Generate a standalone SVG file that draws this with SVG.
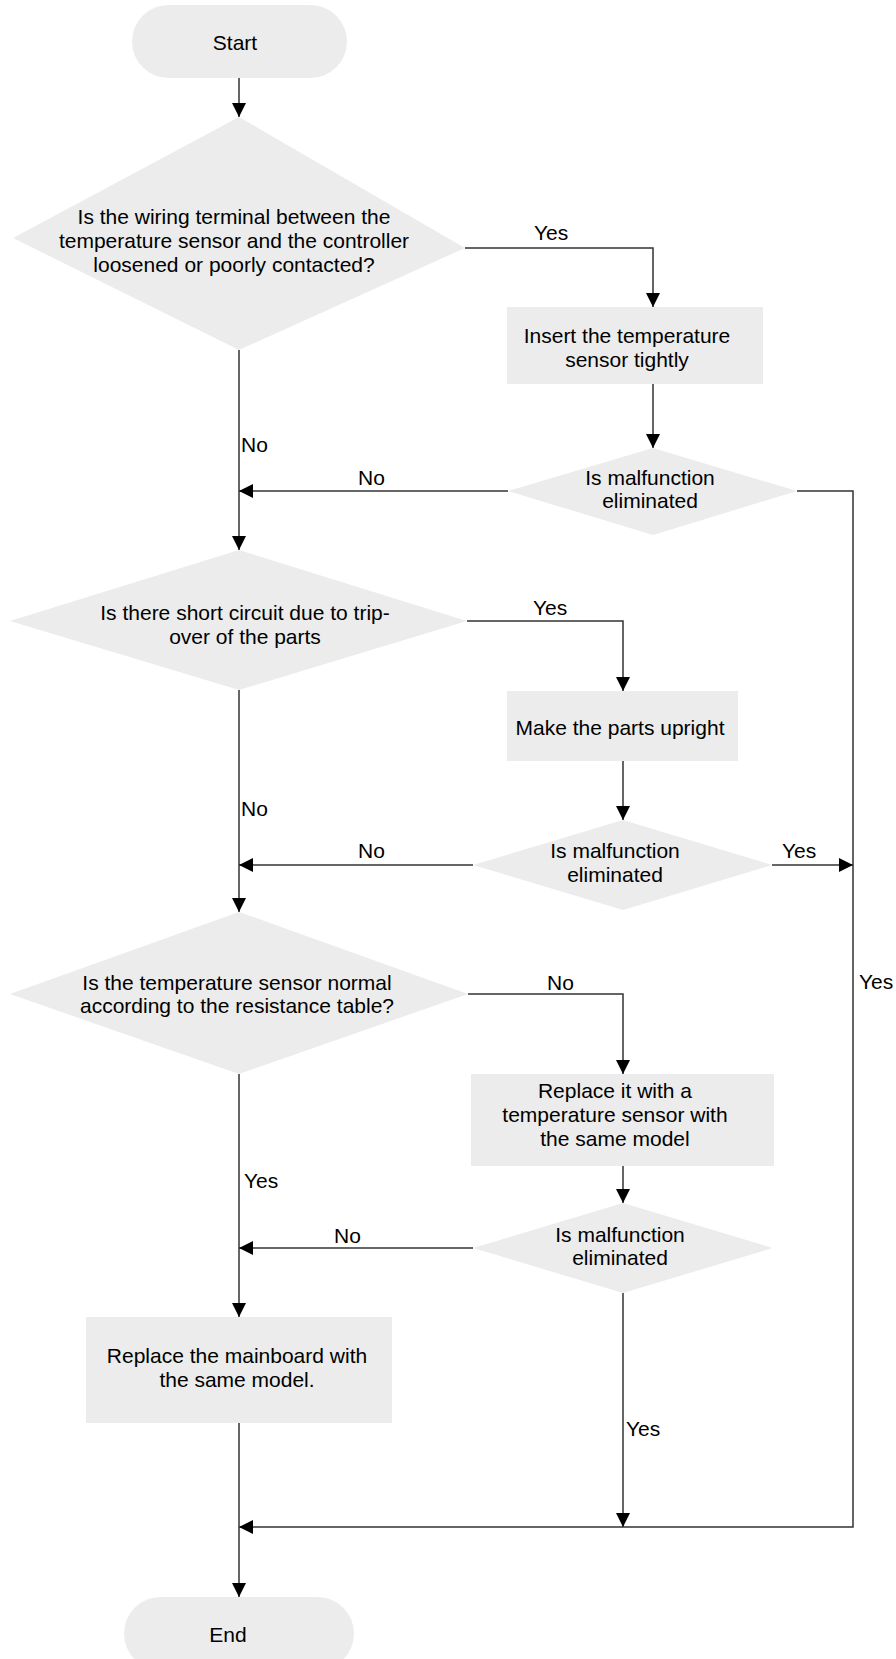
<svg xmlns="http://www.w3.org/2000/svg" width="896" height="1659" viewBox="0 0 896 1659">
<style>
.n{fill:#ebeceb;stroke:none}
.t{font-family:"Liberation Sans",Arial,sans-serif;font-size:21px;fill:#000;text-anchor:middle}
.l{font-family:"Liberation Sans",Arial,sans-serif;font-size:21px;fill:#000}
.c{fill:none;stroke:#333;stroke-width:1.5}
</style>
<defs>
<marker id="ah" markerUnits="userSpaceOnUse" markerWidth="14" markerHeight="14" refX="14" refY="7" orient="auto"><path d="M0,0 L14,7 L0,14 z" fill="#000"/></marker>
</defs>
<rect width="896" height="1659" fill="#fff"/>
<g id="connectors">
<path class="c" d="M239,78 V117" marker-end="url(#ah)"/>
<path class="c" d="M465,248 H653 V307" marker-end="url(#ah)"/>
<path class="c" d="M239,350 V550" marker-end="url(#ah)"/>
<path class="c" d="M653,384 V448" marker-end="url(#ah)"/>
<path class="c" d="M508,491 H239" marker-end="url(#ah)"/>
<path class="c" d="M797,491 H853 V1527 H239" marker-end="url(#ah)"/>
<path class="c" d="M467,621 H623 V691" marker-end="url(#ah)"/>
<path class="c" d="M239,690 V912" marker-end="url(#ah)"/>
<path class="c" d="M623,761 V820" marker-end="url(#ah)"/>
<path class="c" d="M473,865 H239" marker-end="url(#ah)"/>
<path class="c" d="M772,865 H853" marker-end="url(#ah)"/>
<path class="c" d="M468,994 H623 V1074" marker-end="url(#ah)"/>
<path class="c" d="M239,1074 V1317" marker-end="url(#ah)"/>
<path class="c" d="M623,1166 V1203" marker-end="url(#ah)"/>
<path class="c" d="M473,1248 H239" marker-end="url(#ah)"/>
<path class="c" d="M623,1293 V1527" marker-end="url(#ah)"/>
<path class="c" d="M239,1423 V1597" marker-end="url(#ah)"/>
<text class="l" x="534" y="240">Yes</text>
<text class="l" x="241" y="452">No</text>
<text class="l" x="358" y="485">No</text>
<text class="l" x="859" y="989">Yes</text>
<text class="l" x="533" y="615">Yes</text>
<text class="l" x="241" y="816">No</text>
<text class="l" x="358" y="858">No</text>
<text class="l" x="782" y="858">Yes</text>
<text class="l" x="547" y="990">No</text>
<text class="l" x="244" y="1188">Yes</text>
<text class="l" x="334" y="1243">No</text>
<text class="l" x="626" y="1436">Yes</text>
</g>
<g id="start">
<rect class="n" x="132" y="5" width="215" height="73" rx="36.5"/>
<text class="t" x="235" y="50">Start</text>
</g>
<g id="d1">
<polygon class="n" points="239,117 465,248 239,350 13,238"/>
<text class="t" x="234" y="224">Is the wiring terminal between the</text>
<text class="t" x="234" y="248">temperature sensor and the controller</text>
<text class="t" x="234" y="272">loosened or poorly contacted?</text>
</g>
<g id="b1">
<rect class="n" x="507" y="307" width="256" height="77"/>
<text class="t" x="627" y="343">Insert the temperature</text>
<text class="t" x="627" y="367">sensor tightly</text>
</g>
<g id="d2">
<polygon class="n" points="653,448 797,491 653,535 508,491"/>
<text class="t" x="650" y="485">Is malfunction</text>
<text class="t" x="650" y="508">eliminated</text>
</g>
<g id="d3">
<polygon class="n" points="239,550 467,621 239,690 10,621"/>
<text class="t" x="245" y="620">Is there short circuit due to trip-</text>
<text class="t" x="245" y="644">over of the parts</text>
</g>
<g id="b2">
<rect class="n" x="507" y="691" width="231" height="70"/>
<text class="t" x="620" y="735">Make the parts upright</text>
</g>
<g id="d4">
<polygon class="n" points="623,820 772,865 623,910 473,865"/>
<text class="t" x="615" y="858">Is malfunction</text>
<text class="t" x="615" y="882">eliminated</text>
</g>
<g id="d5">
<polygon class="n" points="239,912 468,994 239,1074 10,994"/>
<text class="t" x="237" y="990">Is the temperature sensor normal</text>
<text class="t" x="237" y="1013">according to the resistance table?</text>
</g>
<g id="b3">
<rect class="n" x="471" y="1074" width="303" height="92"/>
<text class="t" x="615" y="1098">Replace it with a</text>
<text class="t" x="615" y="1122">temperature sensor with</text>
<text class="t" x="615" y="1146">the same model</text>
</g>
<g id="d6">
<polygon class="n" points="623,1203 773,1248 623,1293 473,1248"/>
<text class="t" x="620" y="1242">Is malfunction</text>
<text class="t" x="620" y="1265">eliminated</text>
</g>
<g id="b4">
<rect class="n" x="86" y="1317" width="306" height="106"/>
<text class="t" x="237" y="1363">Replace the mainboard with</text>
<text class="t" x="237" y="1387">the same model.</text>
</g>
<g id="end">
<rect class="n" x="124" y="1597" width="230" height="73" rx="36.5"/>
<text class="t" x="228" y="1642">End</text>
</g>
</svg>
